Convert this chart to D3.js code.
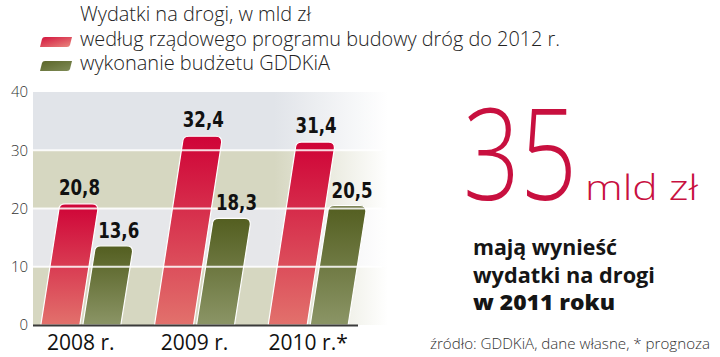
<!DOCTYPE html>
<html><head><meta charset="utf-8">
<script src="https://cdn.jsdelivr.net/npm/d3@7"></script>
<style>
html,body{margin:0;padding:0;background:#fff;}
svg{display:block;}
</style></head>
<body>
<svg id="chart" width="720" height="357"></svg>
<script>
// ---- data ----
const categories = ["2008 r.", "2009 r.", "2010 r.*"];
const planned = [20.8, 32.4, 31.4];     // według rządowego programu budowy dróg do 2012 r.
const executed = [13.6, 18.3, 20.5];    // wykonanie budżetu GDDKiA
const yTicks = [0, 10, 20, 30, 40];
const legendTitle = "Wydatki na drogi, w mld zł";
const seriesNames = ["według rządowego programu budowy dróg do 2012 r.", "wykonanie budżetu GDDKiA"];
const bigNumber = "35";
const bigUnit = "mld zł";
const noteLines = ["mają wynieść", "wydatki na drogi", "w 2011 roku"];
const sourceText = "źródło: GDDKiA, dane własne, * prognoza";

const svg = d3.select("#chart");
const defs = svg.append("defs");
const lightFont = "'Open Sans', 'Noto Sans', sans-serif";
const condBold = "'DejaVu Sans Condensed', 'DejaVu Sans', sans-serif";

function vgrad(id, top, bottom) {
  const g = defs.append("linearGradient").attr("id", id).attr("x1", 0).attr("y1", 0).attr("x2", 0).attr("y2", 1);
  g.append("stop").attr("offset", 0).attr("stop-color", top);
  g.append("stop").attr("offset", 1).attr("stop-color", bottom);
}
vgrad("gRed", "#cf0337", "#e2716c");
vgrad("gGreen", "#535e20", "#8b9566");
const sw1 = defs.append("linearGradient").attr("id", "sRed").attr("x1", 0).attr("y1", 0).attr("x2", 1).attr("y2", 1);
sw1.append("stop").attr("offset", 0).attr("stop-color", "#d3123c");
sw1.append("stop").attr("offset", 1).attr("stop-color", "#e98a80");
const sw2 = defs.append("linearGradient").attr("id", "sGreen").attr("x1", 0).attr("y1", 0).attr("x2", 1).attr("y2", 1);
sw2.append("stop").attr("offset", 0).attr("stop-color", "#5a6528");
sw2.append("stop").attr("offset", 1).attr("stop-color", "#808c58");

// background band gradients (fade to white on the right)
function hgrad(id, c) {
  const g = defs.append("linearGradient").attr("id", id).attr("gradientUnits", "userSpaceOnUse")
    .attr("x1", 33).attr("x2", 388).attr("y1", 0).attr("y2", 0);
  g.append("stop").attr("offset", 0).attr("stop-color", c);
  g.append("stop").attr("offset", 0.68).attr("stop-color", c);
  g.append("stop").attr("offset", 1).attr("stop-color", "#ffffff");
}
hgrad("band0", "#d6d7c1");
hgrad("band1", "#e6e7ea");
hgrad("band2", "#d6d7c1");
hgrad("band3", "#e1e4e9");

// ---- scales ----
const y = d3.scaleLinear().domain([0, 40]).range([325, 92]);
const x = d3.scaleBand().domain(categories).range([24, 365]).padding(0);
const left = 33, right = 388, axisRight = 358;

// background bands
const bands = yTicks.slice(0, -1);
svg.append("g").selectAll("rect").data(bands).join("rect")
  .attr("x", left).attr("width", right - left)
  .attr("y", (d, i) => y(yTicks[i + 1])).attr("height", (d, i) => y(d) - y(yTicks[i + 1]))
  .attr("fill", (d, i) => `url(#band${i})`);

// bars
const slant = 0.15;
function barPath(x0, w, v) {
  const yb = y(0), yt = y(v), h = yb - yt, r = 6;
  const dx = slant * h;
  const tl = x0 + dx, tr = x0 + w + dx;
  return `M${x0},${yb} L${tl - slant * r * 0.2},${yt + r} Q${tl},${yt} ${tl + r},${yt} L${tr - r},${yt} Q${tr},${yt} ${tr - slant * r * 0.2},${yt + r} L${x0 + w},${yb} Z`;
}
const groups = categories.map((c, i) => ({ c, p: planned[i], e: executed[i] }));
const center = c => x(c) + x.bandwidth() / 2;
const gBars = svg.append("g");
gBars.selectAll("path.red").data(groups).join("path").attr("class", "red")
  .attr("d", d => barPath(center(d.c) - 40, 39, d.p))
  .attr("fill", "url(#gRed)").attr("stroke", "#fff").attr("stroke-width", 1.2);
gBars.selectAll("path.green").data(groups).join("path").attr("class", "green")
  .attr("d", d => barPath(center(d.c) + 2, 38, d.e))
  .attr("fill", "url(#gGreen)").attr("stroke", "#fff").attr("stroke-width", 1.2);

// gridlines over bars
svg.append("g").selectAll("line").data([10, 20, 30]).join("line")
  .attr("x1", left).attr("x2", 382).attr("y1", d => y(d)).attr("y2", d => y(d))
  .attr("stroke", "#fff").attr("stroke-opacity", 0.85).attr("stroke-width", 2);

// baseline
svg.append("line").attr("x1", left).attr("x2", axisRight).attr("y1", y(0) + 0.5).attr("y2", y(0) + 0.5)
  .attr("stroke", "#3a3a3a").attr("stroke-width", 2.2);

// value labels (condensed)
const fmt = v => String(v).replace(".", ",");
const lbl = svg.append("g").attr("font-family", condBold).attr("font-weight", "bold")
  .attr("font-size", 22).attr("fill", "#111").attr("text-anchor", "middle");
function condense(sel) {
  sel.each(function () {
    const w = this.getComputedTextLength();
    d3.select(this).attr("textLength", w * 0.84).attr("lengthAdjust", "spacingAndGlyphs");
  });
}
lbl.selectAll("text.p").data(groups).join("text").attr("class", "p")
  .attr("x", d => center(d.c) - 20.5 + slant * (y(0) - y(d.p)) + 1)
  .attr("y", d => y(d.p) - 9).text(d => fmt(d.p)).call(condense);
lbl.selectAll("text.e").data(groups).join("text").attr("class", "e")
  .attr("x", d => center(d.c) + 21 + slant * (y(0) - y(d.e)) + 5)
  .attr("y", d => y(d.e) - 8).text(d => fmt(d.e)).call(condense);

// y axis tick labels
const yAxis = d3.axisLeft(y).tickValues(yTicks).tickSize(0).tickPadding(0);
const ga = svg.append("g").attr("transform", "translate(28,0)").call(yAxis);
ga.select(".domain").remove();
ga.selectAll("text").attr("font-family", lightFont).attr("font-weight", 300)
  .attr("font-size", 15).attr("fill", "#333");

// x axis labels
const xAxis = d3.axisBottom(x).tickSize(0).tickPadding(0);
const gx = svg.append("g").attr("transform", "translate(0,335)").call(xAxis);
gx.select(".domain").remove();
gx.selectAll("text").attr("font-family", lightFont).attr("font-size", 21).attr("fill", "#111").attr("dy", "0.71em");

// legend
svg.append("text").attr("x", 80).attr("y", 21).attr("font-family", lightFont).attr("font-weight", 300)
  .attr("font-size", 20).attr("fill", "#222").attr("textLength", 231).attr("lengthAdjust", "spacingAndGlyphs")
  .text(legendTitle);
const legRows = [
  { name: seriesNames[0], fill: "url(#sRed)", yb: 46, len: 480 },
  { name: seriesNames[1], fill: "url(#sGreen)", yb: 70, len: 250 }
];
const lg = svg.append("g");
lg.selectAll("path").data(legRows).join("path")
  .attr("d", d => { const t = d.yb - 9, b = d.yb + 1; return `M40,${b} L42,${t + 2} Q42.5,${t} 45,${t} L72,${t} L70,${b - 2} Q69.5,${b} 67,${b} Z`; })
  .attr("fill", d => d.fill);
lg.selectAll("text").data(legRows).join("text")
  .attr("x", 80).attr("y", d => d.yb).attr("font-family", lightFont).attr("font-weight", 300)
  .attr("font-size", 20).attr("fill", "#222").attr("textLength", d => d.len).attr("lengthAdjust", "spacingAndGlyphs")
  .text(d => d.name);

// right side
svg.append("text").attr("x", 463).attr("y", 200).attr("font-family", lightFont).attr("font-weight", 300)
  .attr("font-size", 128).attr("fill", "#c8103f").attr("textLength", 114).attr("lengthAdjust", "spacingAndGlyphs")
  .text(bigNumber);
svg.append("text").attr("x", 585).attr("y", 200).attr("font-family", lightFont).attr("font-weight", 300)
  .attr("font-size", 34).attr("fill", "#c8103f").attr("textLength", 113).attr("lengthAdjust", "spacingAndGlyphs")
  .text(bigUnit);
const noteLens = [144, 182, 142];
svg.append("g").selectAll("text").data(noteLines).join("text")
  .attr("x", 473).attr("y", (d, i) => 255 + i * 27.5)
  .attr("font-family", lightFont).attr("font-weight", (d, i) => i === 2 ? 800 : 700)
  .attr("font-size", 21).attr("fill", "#151515")
  .attr("textLength", (d, i) => noteLens[i]).attr("lengthAdjust", "spacingAndGlyphs")
  .text(d => d);
svg.append("text").attr("x", 430).attr("y", 349).attr("font-family", lightFont).attr("font-weight", 300)
  .attr("font-size", 15).attr("fill", "#333").attr("textLength", 280).attr("lengthAdjust", "spacingAndGlyphs")
  .text(sourceText);
</script>
</body></html>
